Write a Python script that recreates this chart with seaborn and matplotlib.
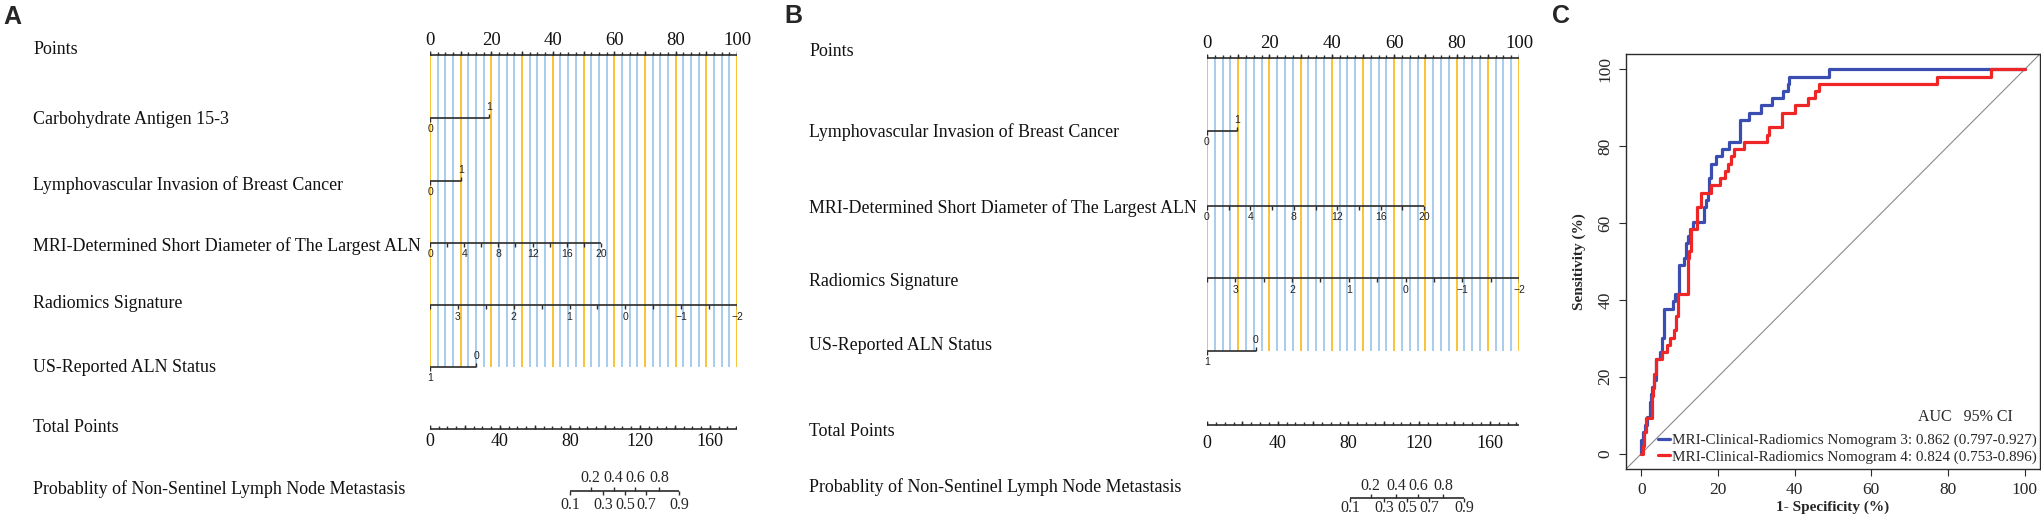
import numpy as np
import pandas as pd
import seaborn as sns
import matplotlib.pyplot as plt
import matplotlib.transforms as mtrans
from matplotlib.lines import Line2D

# ---------------- values ----------------
point_labels = [0, 20, 40, 60, 80, 100]
total_labels = [0, 40, 80, 120, 160]
prob_values = [0.1, 0.2, 0.3, 0.4, 0.5, 0.6, 0.7, 0.8, 0.9]
mri_values = [0, 2, 4, 6, 8, 10, 12, 14, 16, 18, 20]
rad_values = [3.5, 3, 2.5, 2, 1.5, 1, 0.5, 0, -0.5, -1, -1.5, -2]
rad_range = (3.5, -2)   # radiomics value at 0 and at 100 points

names_a = ["Points", "Carbohydrate Antigen 15-3", "Lymphovascular Invasion of Breast Cancer",
           "MRI-Determined Short Diameter of The Largest ALN", "Radiomics Signature",
           "US-Reported ALN Status", "Total Points",
           "Probablity of Non-Sentinel Lymph Node Metastasis"]
names_b = [n for n in names_a if n != "Carbohydrate Antigen 15-3"]

# panel A
a_carb_pts = [0, 19.2]      # CA15-3 = 0, 1
a_lvi_pts = [0, 10.0]       # LVI = 0, 1
a_mri_max = 55.7            # points for 20 mm
a_us_pts = [0, 15.0]        # US status = 1, 0
a_total_max = 175.5
a_prob_pts = [80.0, 91.8, 99.0, 105.0, 111.4, 117.1, 123.4, 131.0, 142.5]

# panel B
b_lvi_pts = [0, 9.7]
b_mri_max = 69.6
b_us_pts = [0, 15.7]
b_total_max = 176.5
b_prob_pts = [80.8, 92.5, 100.4, 107.2, 113.2, 119.4, 125.6, 133.5, 145.4]

# panel C: ROC step curves (1 - specificity %, sensitivity %)
blue_fpr = [0, 0, 0.5, 1.0, 1.5, 2.2, 2.5, 2.8, 3.3, 3.8, 4.9, 5.5, 6.0, 8.2, 8.8, 9.7, 11.0,
            11.6, 12.1, 12.6, 13.5, 16.4, 16.8, 17.3, 17.7, 18.2, 19.6, 21.0, 22.8, 25.7, 28.2,
            31.2, 34.0, 36.9, 38.2, 38.6, 49.0, 100]
blue_tpr = [0, 3.5, 5.7, 7.4, 9.6, 13.5, 15.4, 17.3, 19.2, 24.5, 26.5, 30.2, 37.7, 39.6, 41.5,
            49.1, 50.9, 54.7, 56.6, 58.5, 60.4, 64.2, 66.0, 67.9, 71.7, 75.5, 77.4, 79.2, 81.1,
            86.8, 88.7, 90.6, 92.5, 94.3, 96.2, 98.1, 100, 100]
red_fpr = [0, 0.5, 0.8, 1.1, 2.7, 3.0, 3.3, 3.8, 5.3, 6.6, 7.5, 8.5, 9.0, 9.5, 12.1, 12.4, 12.9,
           14.5, 15.6, 18.2, 20.6, 21.7, 22.7, 23.4, 24.2, 26.8, 32.7, 33.2, 36.8, 40.1, 43.5,
           45.4, 46.3, 77.2, 91.2, 100]
red_tpr = [0, 2.0, 5.7, 9.4, 15.0, 17.0, 20.8, 24.5, 26.4, 28.3, 30.2, 32.1, 35.8, 41.5, 50.9,
           52.8, 58.5, 64.2, 67.9, 69.8, 71.7, 73.6, 75.5, 77.4, 79.2, 81.1, 83.0, 84.9, 88.7,
           90.6, 92.5, 94.3, 96.2, 98.1, 100, 100]
roc_labels = ["MRI-Clinical-Radiomics Nomogram 3: 0.862 (0.797-0.927)",
              "MRI-Clinical-Radiomics Nomogram 4: 0.824 (0.753-0.896)"]

# ---------------- style ----------------
sns.set_theme(style="white")
SERIF = ["Liberation Serif", "DejaVu Serif"]
SANS = ["Liberation Sans", "DejaVu Sans"]
plt.rcParams["font.family"] = SERIF
AX_COL = "#2b2b2b"
ORANGE = "#FBC232"
LBLUE = "#A8CCEE"
BLUE = "#3A4EB2"
RED = "#EE2626"

W, H = 2041, 519
fig = plt.figure(figsize=(W / 100, H / 100), dpi=100)


def tick(ax, xs, y, ln, lw=1.0):
    # ln > 0 draws the tick upward
    ax.vlines(xs, y, y - ln, color=AX_COL, lw=lw, zorder=3)


def scale_line(ax, x0, x1, y):
    ax.hlines(y, x0, x1, color=AX_COL, lw=1.2, zorder=3)


def small(ax, x, y, s):
    ax.text(x, y, s, ha="center", va="center", fontsize=7.5, family=SANS, color="#222", zorder=4)


def binary(ax, y, pts, labels):
    scale_line(ax, pts[0], pts[1], y)
    tick(ax, [pts[0]], y, -4)
    tick(ax, [pts[1]], y, 4)
    small(ax, pts[0], y + 11, labels[0])
    small(ax, pts[1], y - 11, labels[1])


def nomogram(left, right, label_x, names, lay, lab, d):
    ax = fig.add_axes([left / W, 0, (right - left) / W, 1])
    ax.set_xlim(0, 100)
    ax.set_ylim(H, 0)
    ax.axis("off")
    tr = mtrans.blended_transform_factory(fig.transFigure, ax.transData)
    for key, name in zip(lab.keys(), names):
        ax.text(label_x / W, lab[key], name, transform=tr, ha="left", va="center",
                fontsize=12.9, color="#111")

    # vertical reference lines
    grid = np.arange(0, 100.01, 2.5)
    cols = [ORANGE if g % 10 == 0 else LBLUE for g in grid]
    ax.vlines(grid, lay["points"], lay["us"], colors=cols, lw=1.4, zorder=1)

    # points scale
    y = lay["points"]
    scale_line(ax, 0, 100, y)
    tick(ax, grid, y, 3)
    tick(ax, np.arange(0, 101, 10), y, 4.5)
    for p in point_labels:
        ax.text(p, y - 10, str(p), ha="center", va="baseline", fontsize=13.5, color="#111")

    if "carb" in lay:
        binary(ax, lay["carb"], d["carb"], ["0", "1"])
    binary(ax, lay["lvi"], d["lvi"], ["0", "1"])

    # MRI diameter
    y = lay["mri"]
    mpts = [v / 20 * d["mri"] for v in mri_values]
    scale_line(ax, 0, mpts[-1], y)
    tick(ax, mpts, y, -4)
    for v, p in zip(mri_values, mpts):
        if v % 4 == 0:
            small(ax, p, y + 11, str(v))

    # radiomics signature
    y = lay["rad"]
    rpts = [(rad_range[0] - v) / (rad_range[0] - rad_range[1]) * 100 for v in rad_values]
    scale_line(ax, 0, 100, y)
    tick(ax, rpts, y, -4)
    for v, p in zip(rad_values, rpts):
        if float(v).is_integer():
            small(ax, p, y + 12, str(int(v)).replace("-", "\u2212"))

    binary(ax, lay["us"], d["us"], ["1", "0"])

    # total points
    y = lay["total"]
    k = 100 / d["total"]
    scale_line(ax, 0, 100, y)
    tick(ax, np.arange(0, d["total"], 5) * k, y, 3)
    tick(ax, np.arange(0, d["total"], 20) * k, y, 4.5)
    for t in total_labels:
        ax.text(t * k, y + d["toff"], str(t), ha="center", va="center", fontsize=13, color="#111")

    # probability
    y = lay["prob"]
    ppos = [p * k for p in d["prob"]]
    scale_line(ax, ppos[0], ppos[-1], y)
    for i, (pv, p) in enumerate(zip(prob_values, ppos)):
        if i % 2 == 0:
            tick(ax, [p], y, -4)
            ax.text(p, y + d["poff"][1], f"{pv:.1f}", ha="center", va="center", fontsize=11.5)
        else:
            tick(ax, [p], y, 4)
            ax.text(p, y - d["poff"][0], f"{pv:.1f}", ha="center", va="center", fontsize=11.5)
    return ax


lay_a = dict(points=55, carb=118, lvi=181, mri=243, rad=305, us=367, total=429, prob=491)
lab_a = dict(points=50, carb=119, lvi=185, mri=246, rad=303, us=367, total=428, prob=489)
nomogram(430, 737, 33, names_a, lay_a, lab_a,
         dict(carb=a_carb_pts, lvi=a_lvi_pts, mri=a_mri_max, us=a_us_pts,
              total=a_total_max, prob=a_prob_pts, toff=13, poff=(13, 14)))

lay_b = dict(points=58, lvi=131, mri=206, rad=278, us=351, total=425, prob=498)
lab_b = dict(points=52, lvi=132, mri=208, rad=282, us=346, total=432, prob=487)
nomogram(1207, 1519, 809, names_b, lay_b, lab_b,
         dict(lvi=b_lvi_pts, mri=b_mri_max, us=b_us_pts,
              total=b_total_max, prob=b_prob_pts, toff=18, poff=(12, 10)))

# ---------------- panel C: ROC ----------------
axc = fig.add_axes([1626 / W, 1 - 469 / H, 414 / W, 415 / H])
roc = pd.concat([
    pd.DataFrame({"fpr": blue_fpr, "tpr": blue_tpr, "model": "3"}),
    pd.DataFrame({"fpr": red_fpr, "tpr": red_tpr, "model": "4"}),
])
axc.axline((0, 0), slope=1, color="#8a8a8a", lw=0.8, zorder=1)
sns.lineplot(data=roc, x="fpr", y="tpr", hue="model", palette=[BLUE, RED],
             estimator=None, sort=False, drawstyle="steps-post", lw=2.3,
             legend=False, ax=axc, zorder=3)
axc.set_xlim(-4, 104)
axc.set_ylim(-4, 104)
axc.set_xticks(range(0, 101, 20))
axc.set_yticks(range(0, 101, 20))
axc.tick_params(direction="out", length=5, width=0.8, color=AX_COL, labelsize=12.5,
                pad=4, left=True, bottom=True)
for lbl in axc.get_yticklabels():
    lbl.set_rotation(90)
    lbl.set_va("center")
for s in axc.spines.values():
    s.set_color(AX_COL)
    s.set_linewidth(1.0)
axc.set_xlabel("1- Specificity (%)", fontsize=11, fontweight="bold", labelpad=2)
axc.set_ylabel("Sensitivity (%)", fontsize=11, fontweight="bold", labelpad=8)

handles = [Line2D([], [], color=BLUE, lw=2.3), Line2D([], [], color=RED, lw=2.3)]
axc.legend(handles, roc_labels, loc="lower right", bbox_to_anchor=(1.0, 0.005),
           frameon=False, fontsize=10.9, handlelength=0.8, handletextpad=0.15,
           labelspacing=0.2, borderaxespad=0.1, borderpad=0.1)
axc.text((1918 - 1626) / 414, (469 - 417) / 415, "AUC   95% CI", transform=axc.transAxes,
         ha="left", va="center", fontsize=11.5)

# panel letters
for x, y, s in [(12, 17, "A"), (793, 16, "B"), (1561, 16, "C")]:
    fig.text(x / W, 1 - y / H, s, ha="center", va="center", fontsize=18,
             fontweight="bold", family=SANS)

fig.savefig("out.png", dpi=100, facecolor="white")
